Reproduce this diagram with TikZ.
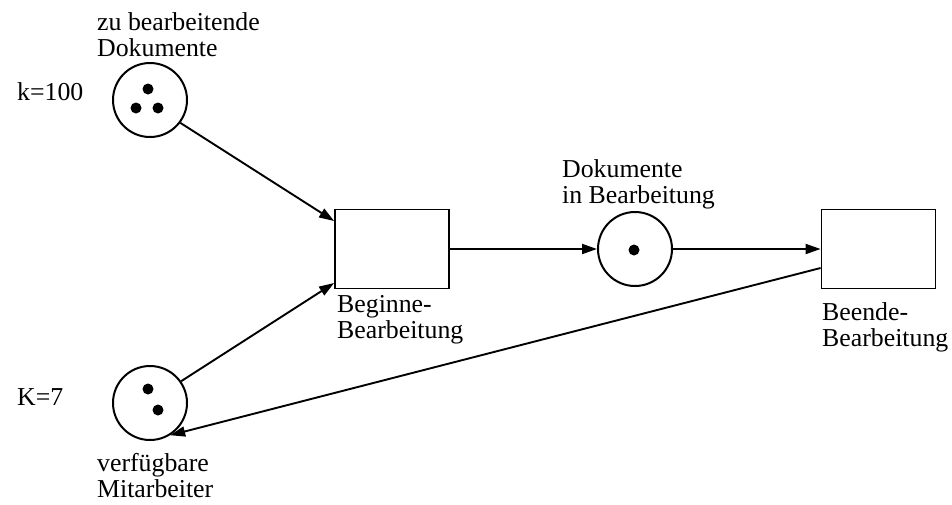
\documentclass[tikz,border=0pt]{standalone}
\usepackage{fontspec}
\setmainfont{Liberation Serif}
\usetikzlibrary{arrows.meta}
\begin{document}
\begin{tikzpicture}[x=1pt,y=-1pt,
  place/.style={draw,circle,line width=2pt,minimum size=74pt,inner sep=0pt},
  trans/.style={draw,rectangle,line width=1.8pt,minimum width=114pt,minimum height=79pt,inner sep=0pt},
  token/.style={fill,circle,minimum size=11pt,inner sep=0pt},
  lbl/.style={anchor=north west,align=left,inner sep=0pt,font=\fontsize{25.8}{26}\selectfont},
  arc/.style={line width=1.9pt,-{Triangle[length=15pt,width=10pt]}}]
\useasboundingbox[fill=white] (0,0) rectangle (952,504);
% places
\node[place] (p1) at (150,100) {};
\node[place] (p2) at (150,403) {};
\node[place] (p3) at (635,249) {};
% tokens
\node[token] (k1) at (148,89) {};
\node[token] (k2) at (136,108) {};
\node[token] (k3) at (158,108) {};
\node[token] (k4) at (148,389) {};
\node[token] (k5) at (158,410) {};
\node[token] (k6) at (634,250) {};
% transitions
\node[trans] (t1) at (392,249) {};
\node[trans] (t2) at (878.5,249) {};
% labels
\node[lbl] (l1) at (97,12) {zu bearbeitende\\Dokumente};
\node[lbl] (l2) at (17,82) {k=100};
\node[lbl] (l3) at (17,388) {K=7};
\node[lbl,font=\fontsize{25.8}{26.5}\selectfont] (l4) at (97,453) {verfügbare\\Mitarbeiter};
\node[lbl] (l5) at (562,159) {Dokumente\\in Bearbeitung};
\node[lbl] (l6) at (337,295) {Beginne-\\Bearbeitung};
\node[lbl] (l7) at (822,302) {Beende-\\Bearbeitung};
% arcs
\draw[arc] (p1.-37) -- ([yshift=28pt]t1.west);
\draw[arc] (p2.35) -- ([yshift=-34pt]t1.west);
\draw[arc] (t1.east) -- (p3.west);
\draw[arc] (p3.east) -- (t2.west);
\draw[arc] ([yshift=-19pt]t2.west) -- (p2.-58);
\end{tikzpicture}
\end{document}
